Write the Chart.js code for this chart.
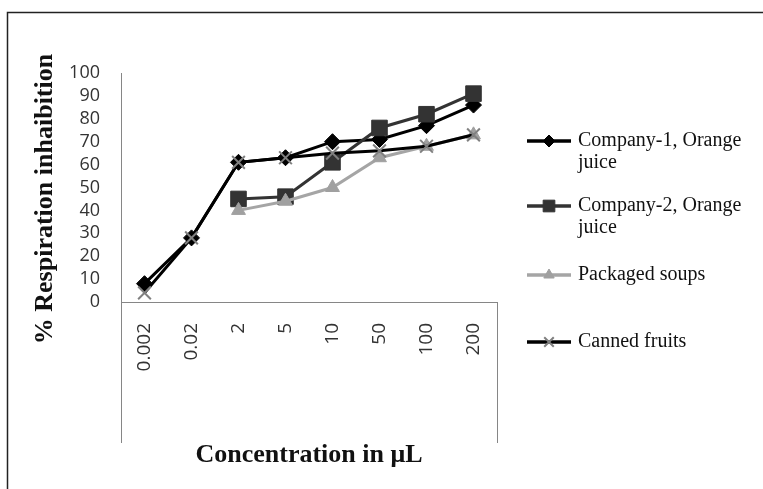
<!DOCTYPE html>
<html>
<head>
<meta charset="utf-8">
<script src="https://cdn.jsdelivr.net/npm/chart.js@4/dist/chart.umd.min.js"></script>
<style>
  html, body { margin: 0; padding: 0; background: #fff; }
  #wrap { position: relative; width: 763px; height: 489px; }
  canvas { display: block; }
</style>
</head>
<body>
<div id="wrap"><canvas id="c" width="763" height="489"></canvas></div>
<script>
// ---- data ----
const categories = ["0.002", "0.02", "2", "5", "10", "50", "100", "200"];
const company1 = [8, 28, 61, 63, 70, 71, 77, 86];
const company2 = [null, null, 45, 46, 61, 76, 82, 91];
const packagedSoups = [null, null, 40, 44, 50, 63, 68, 73];
const cannedFruits = [4, 28, 61, 63, 65, 66, 68, 73];
const seriesNames = ["Company-1, Orange juice", "Company-2, Orange juice", "Packaged soups", "Canned fruits"];
const yTicksMin = 0, yTicksMax = 100, yTicksStep = 10;
const xTitle = "Concentration in \u03bcL";
const yTitle = "% Respiration inhaibition";

// ---- plugins ----
const frame = {
  id: 'frame',
  beforeDraw(chart) {
    const ctx = chart.ctx;
    ctx.save();
    ctx.fillStyle = '#fff';
    ctx.fillRect(0, 0, chart.width, chart.height);
    ctx.strokeStyle = '#222';
    ctx.lineWidth = 1.5;
    ctx.strokeRect(7.5, 12.5, 900, 700);
    ctx.restore();
  },
  afterDraw(chart) {
    const ctx = chart.ctx, a = chart.chartArea;
    ctx.save();
    ctx.strokeStyle = '#868686';
    ctx.lineWidth = 1;
    ctx.beginPath();
    ctx.moveTo(Math.round(a.left) + 0.5, a.bottom);
    ctx.lineTo(Math.round(a.left) + 0.5, 443);
    ctx.moveTo(Math.round(a.right) + 0.5, a.bottom);
    ctx.lineTo(Math.round(a.right) + 0.5, 443);
    ctx.stroke();

    // axis titles
    ctx.fillStyle = '#111';
    ctx.font = 'bold 26px "Liberation Serif", "Times New Roman", serif';
    ctx.textAlign = 'center';
    ctx.textBaseline = 'alphabetic';
    ctx.fillText(chart.options.scales.x.title.text, (a.left + a.right) / 2, 462);
    ctx.translate(52, 199);
    ctx.rotate(-Math.PI / 2);
    ctx.fillText(chart.options.scales.y.title.text, 0, 0);
    ctx.restore();

    // legend
    const itemY = [141, 206, 275, 342];
    ctx.save();
    ctx.font = '20px "Liberation Serif", "Times New Roman", serif';
    ctx.textBaseline = 'middle';
    ctx.textAlign = 'left';
    chart.data.datasets.forEach((ds, i) => {
      const y = itemY[i];
      ctx.strokeStyle = ds.borderColor;
      ctx.lineWidth = 3.5;
      ctx.beginPath();
      ctx.moveTo(527, y);
      ctx.lineTo(571, y);
      ctx.stroke();
      ctx.fillStyle = ds.pointBackgroundColor;
      ctx.strokeStyle = ds.pointBorderColor;
      ctx.lineWidth = ds.pointBorderWidth;
      Chart.helpers.drawPoint(ctx, {pointStyle: ds.pointStyle, radius: ds.pointRadius * 0.75, rotation: 0, borderWidth: ds.pointBorderWidth}, 549, y);
      // wrap text
      const words = ds.label.split(' ');
      const lines = [];
      let cur = '';
      words.forEach(w => {
        const t = cur ? cur + ' ' + w : w;
        if (ctx.measureText(t).width > 180 && cur) { lines.push(cur); cur = w; } else cur = t;
      });
      lines.push(cur);
      ctx.fillStyle = '#111';
      lines.forEach((ln, k) => ctx.fillText(ln, 578, y + k * 22));
    });
    ctx.restore();
  }
};

const ds = (label, data, color, style, radius, pbg, pbc, pbw, order) => ({
  label, data,
  borderColor: color, borderWidth: 3,
  pointStyle: style, pointRadius: radius, pointHoverRadius: radius,
  pointBackgroundColor: pbg, pointBorderColor: pbc, pointBorderWidth: pbw,
  tension: 0, fill: false, order
});

new Chart(document.getElementById('c'), {
  type: 'line',
  data: {
    labels: categories,
    datasets: [
      ds(seriesNames[0], company1, '#000000', 'rectRot', 8, '#000', '#000', 1, 3),
      ds(seriesNames[1], company2, '#333333', 'rect', 11, '#333', '#333', 1, 2),
      ds(seriesNames[2], packagedSoups, '#a5a5a5', 'triangle', 8, '#a0a0a0', '#a0a0a0', 1, 1),
      ds(seriesNames[3], cannedFruits, '#000000', 'crossRot', 9, '#808080', '#808080', 2, 0)
    ]
  },
  options: {
    responsive: false,
    animation: false,
    events: [],
    layout: { padding: { left: 0, top: 73, right: 266, bottom: 0 } },
    plugins: { legend: { display: false }, tooltip: { enabled: false }, title: { display: false } },
    scales: {
      x: {
        type: 'category',
        offset: true,
        grid: { display: false, drawTicks: false },
        border: { display: true, color: '#868686', width: 1 },
        ticks: {
          maxRotation: 90, minRotation: 90, padding: 21, autoSkip: false,
          color: '#333',
          font: { family: '"Open Sans", "Liberation Sans", sans-serif', size: 19 }
        },
        title: { display: false, text: xTitle },
        afterFit: s => { s.height = 489 - 302; }
      },
      y: {
        min: yTicksMin, max: yTicksMax,
        grid: { display: false, drawTicks: false },
        border: { display: true, color: '#868686', width: 1 },
        ticks: {
          stepSize: yTicksStep, padding: 21, autoSkip: false,
          color: '#333',
          font: { family: '"Open Sans", "Liberation Sans", sans-serif', size: 18, lineHeight: 1 }
        },
        title: { display: false, text: yTitle },
        afterFit: s => { s.width = 121; }
      }
    }
  },
  plugins: [frame]
});
</script>
</body>
</html>
